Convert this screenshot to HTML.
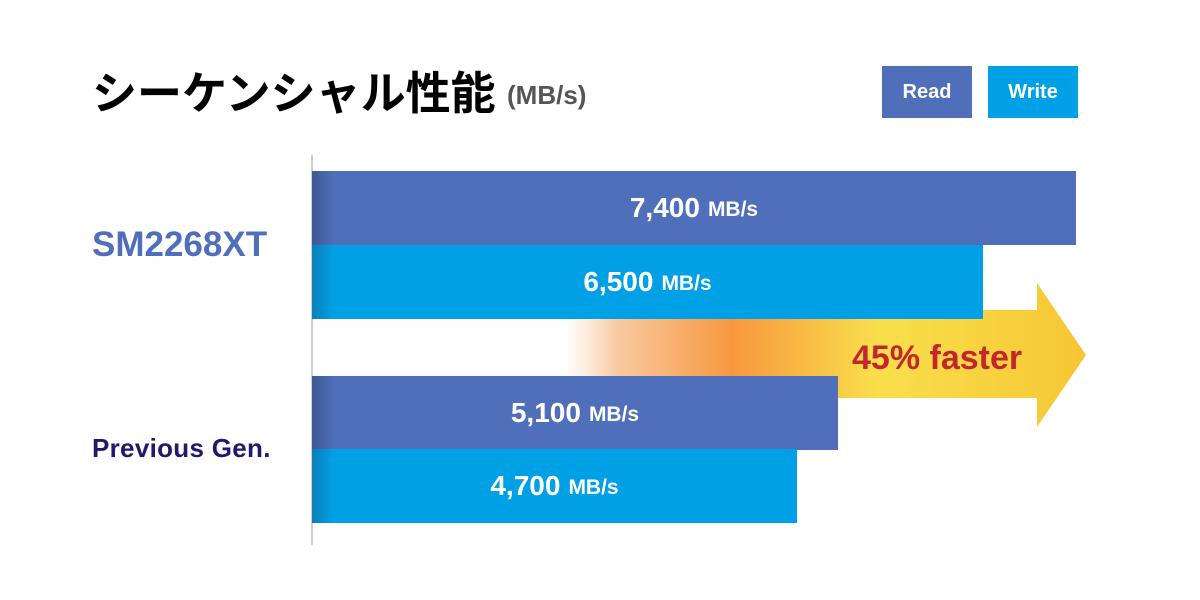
<!DOCTYPE html>
<html><head><meta charset="utf-8"><style>
body{margin:0;width:1200px;height:600px;background:#fff;position:relative;overflow:hidden;font-family:"Liberation Sans","Noto Sans CJK JP",sans-serif;}
.a{position:absolute;}
.bar{position:absolute;left:312px;height:74px;color:#fff;font-weight:bold;font-size:28px;display:flex;align-items:center;justify-content:center;}
.bar span{display:inline-block;}
.bar small{font-size:21px;margin-left:8px;position:relative;top:2px;}
.r{background:linear-gradient(90deg,#3f5894 0,#4f6fbb 22px);}
.w{background:linear-gradient(90deg,#0a7fb8 0,#00a0e6 22px);}
.lg{position:absolute;top:66px;width:90px;height:52px;color:#fff;font-weight:bold;font-size:20px;display:flex;align-items:center;justify-content:center;}
</style></head><body>
<div class="a" style="left:92px;top:60px;font-size:45px;font-weight:bold;color:#000;letter-spacing:0px;font-family:'Noto Sans CJK JP',sans-serif;line-height:60px;">シーケンシャル性能</div>
<div class="a" style="left:507px;top:80px;font-size:26px;font-weight:bold;color:#555;">(MB/s)</div>
<div class="lg" style="left:882px;background:#4f6fbb;">Read</div>
<div class="lg" style="left:988px;background:#00a0e6;">Write</div>
<div class="a" style="left:311px;top:155px;width:2px;height:390px;background:#ccc;"></div>
<svg class="a" style="left:0;top:0" width="1200" height="600">
<defs><linearGradient id="g" x1="565" x2="1087" y1="0" y2="0" gradientUnits="userSpaceOnUse">
<stop offset="0" stop-color="#fbd5b0" stop-opacity="0"/>
<stop offset="0.1" stop-color="#f9c9a0"/>
<stop offset="0.32" stop-color="#f7983e"/>
<stop offset="0.6" stop-color="#f9df4c"/>
<stop offset="1" stop-color="#f6c634"/>
</linearGradient></defs>
<polygon points="565,310 1037,310 1037,283 1086,355 1037,427 1037,398 565,398" fill="url(#g)"/>
</svg>
<div class="bar r" style="top:171px;width:764px;">7,400<small>MB/s</small></div>
<div class="bar w" style="top:245px;width:671px;">6,500<small>MB/s</small></div>
<div class="bar r" style="top:376px;width:526px;">5,100<small>MB/s</small></div>
<div class="bar w" style="top:449px;width:485px;">4,700<small>MB/s</small></div>
<div class="a" style="left:852px;top:339px;font-size:34px;font-weight:bold;color:#c1272d;">45% faster</div>
<div class="a" style="left:92px;top:225px;font-size:35px;font-weight:bold;color:#4f6fbb;">SM2268XT</div>
<div class="a" style="left:92px;top:433px;font-size:26px;font-weight:bold;color:#1e1a6e;letter-spacing:0.3px;">Previous Gen.</div>
</body></html>
